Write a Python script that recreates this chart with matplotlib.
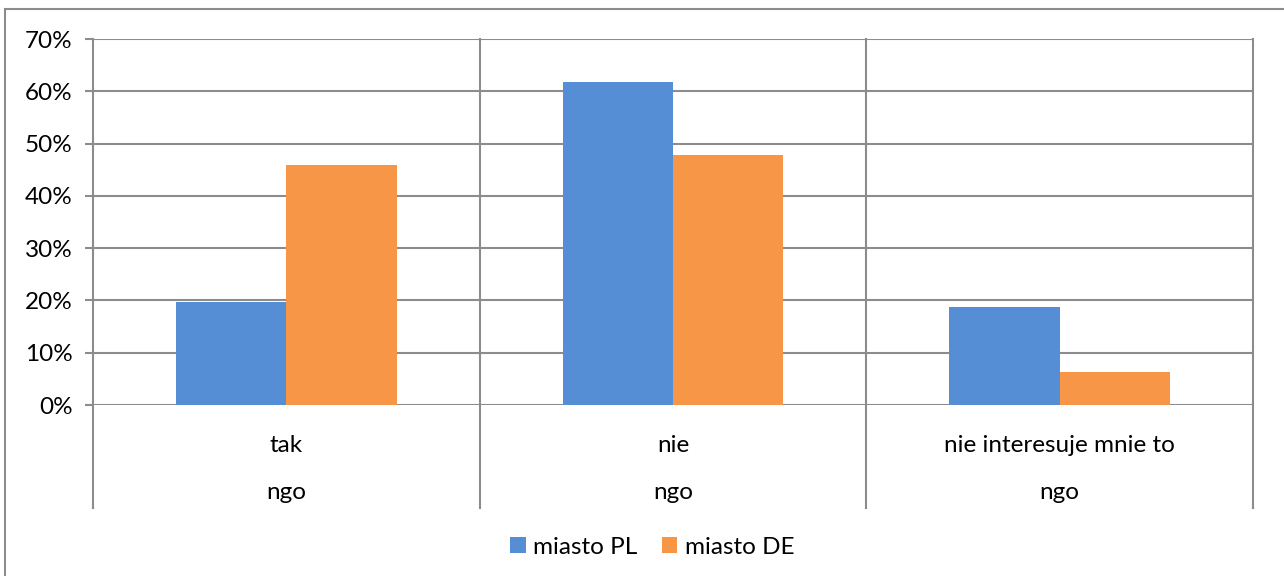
import matplotlib
matplotlib.use("Agg")
import matplotlib.pyplot as plt
import matplotlib.transforms as mtransforms
from matplotlib.patches import Rectangle
import numpy as np

# dane
categories = ["tak", "nie", "nie interesuje mnie to"]
group_label = "ngo"
series_names = ["miasto PL", "miasto DE"]
values_pl = [19.7, 61.7, 18.7]
values_de = [45.9, 47.8, 6.4]
y_ticks = [0, 10, 20, 30, 40, 50, 60, 70]

COLORS = ["#558ED5", "#F79646"]
GRID = "#8C8C8C"
W, H = 1284, 576
FS = 17.5

plt.rcParams["font.family"] = ["Lato", "DejaVu Sans"]

fig = plt.figure(figsize=(W / 100, H / 100), dpi=100)
ax = fig.add_axes([93 / W, 1 - 405 / H, 1160 / W, 366 / H])

x = np.arange(len(categories)) + 0.5
bw = 0.285
ax.bar(x - bw / 2, values_pl, bw, color=COLORS[0], label=series_names[0], zorder=3)
ax.bar(x + bw / 2, values_de, bw, color=COLORS[1], label=series_names[1], zorder=3)

ax.set_xlim(0, len(categories))
ax.set_ylim(0, 70)
ax.set_yticks(y_ticks)
ax.set_yticklabels([f"{t}%" for t in y_ticks], fontsize=FS)
ax.tick_params(axis="y", length=5.8, width=1.5, color=GRID, pad=9)
ax.set_xticks([])
ax.yaxis.grid(True, color=GRID, linewidth=1.5, zorder=0)
for s in ax.spines.values():
    s.set_visible(False)

# linie podziału kategorii (wydłużone w dół, oś wielopoziomowa)
trans = mtransforms.blended_transform_factory(ax.transData, ax.transAxes)
for b in range(len(categories) + 1):
    ax.plot([b, b], [-0.281, 1], color=GRID, linewidth=1.5, transform=trans,
            clip_on=False, zorder=1)

for xi, cat in zip(x, categories):
    ax.text(xi, -0.112, cat, transform=trans, ha="center", va="center", fontsize=FS)
    ax.text(xi, -0.238, group_label, transform=trans, ha="center", va="center", fontsize=FS)

# ramka wykresu
fig.patches.append(Rectangle((5 / W, -0.01), 1.02, 1 - 9 / H + 0.01,
                             transform=fig.transFigure, fill=False,
                             edgecolor=GRID, linewidth=1.5))

fig.legend(loc="center", bbox_to_anchor=(652 / W, 1 - 547 / H), ncol=2,
           frameon=False, fontsize=FS, handlelength=0.65, handleheight=0.65,
           handletextpad=0.3, columnspacing=1.0)

fig.savefig("out.png", dpi=100)
